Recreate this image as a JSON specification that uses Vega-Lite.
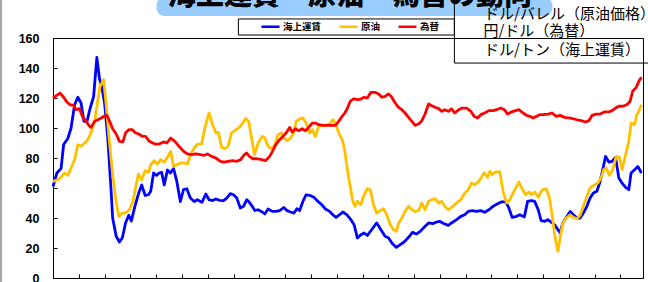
{
  "$schema": "https://vega.github.io/schema/vega-lite/v6.json",
  "width": 590,
  "height": 240,
  "autosize": {"type": "none"},
  "padding": {"left": 53, "top": 38, "right": 5, "bottom": 4},
  "background": "white",
  "config": {
    "view": {"stroke": "black", "strokeWidth": 1},
    "axis": {"grid": false, "domainColor": "black", "tickColor": "black", "domainWidth": 1, "tickWidth": 1}
  },
  "resolve": {"axis": {"x": "independent", "y": "independent"}},
  "layer": [
    {
      "data": {"values": [{}]},
      "mark": {"type": "rect", "fill": "#A6A6A6"},
      "encoding": {
        "x": {"datum": -16.6, "type": "quantitative", "axis": null},
        "x2": {"datum": -15.8},
        "y": {"datum": -5, "type": "quantitative", "axis": null},
        "y2": {"datum": 187}
      }
    },
    {
      "data": {"values": [{}]},
      "mark": {"type": "rect", "fill": "#99CCFF", "cornerRadius": 8},
      "encoding": {
        "x": {"datum": 32.1, "type": "quantitative", "axis": null},
        "x2": {"datum": 154.9},
        "y": {"datum": 174.7, "type": "quantitative", "axis": null},
        "y2": {"datum": 187}
      }
    },
    {
      "data": {"values": [{}]},
      "mark": {"type": "text", "font": "Noto Sans CJK JP", "fontSize": 28, "fontWeight": 900, "align": "center", "baseline": "alphabetic", "color": "black"},
      "encoding": {
        "x": {"datum": 92.1, "type": "quantitative", "axis": null},
        "y": {"datum": 182.3, "type": "quantitative", "axis": null},
        "text": {"value": "海上運賃・原油・為替の動向"}
      }
    },
    {
      "data": {"values": [{}]},
      "mark": {"type": "rect", "fill": "white", "stroke": "black", "strokeWidth": 1},
      "encoding": {
        "x": {"datum": 57.5, "type": "quantitative", "axis": null},
        "x2": {"datum": 124.5},
        "y": {"datum": 162, "type": "quantitative", "axis": null},
        "y2": {"datum": 172.7}
      }
    },
    {
      "data": {"values": [{}]},
      "mark": {"type": "rect", "fillOpacity": 0, "stroke": "black", "strokeWidth": 1},
      "encoding": {
        "x": {"datum": 124.5, "type": "quantitative", "axis": null},
        "x2": {"datum": 187},
        "y": {"datum": 143.3, "type": "quantitative", "axis": null},
        "y2": {"datum": 187}
      }
    },
    {
      "data": {"values": [
        {"series":"海上運賃","t":0,"v":61},{"series":"海上運賃","t":1.2,"v":70},{"series":"海上運賃","t":2.5,"v":73},{"series":"海上運賃","t":3.3,"v":89},{"series":"海上運賃","t":4.6,"v":93},{"series":"海上運賃","t":5.6,"v":100},{"series":"海上運賃","t":6.7,"v":115.5},{"series":"海上運賃","t":7.7,"v":120.5},{"series":"海上運賃","t":8.7,"v":116.7},{"series":"海上運賃","t":9.6,"v":104.5},{"series":"海上運賃","t":10.5,"v":104},{"series":"海上運賃","t":11.5,"v":113},{"series":"海上運賃","t":12.6,"v":121},{"series":"海上運賃","t":13.6,"v":147},{"series":"海上運賃","t":14.4,"v":133},{"series":"海上運賃","t":15.1,"v":128},{"series":"海上運賃","t":16.0,"v":116.7},{"series":"海上運賃","t":17.0,"v":93},{"series":"海上運賃","t":18.1,"v":55.5},{"series":"海上運賃","t":18.5,"v":40},{"series":"海上運賃","t":19.6,"v":27.8},{"series":"海上運賃","t":20.6,"v":24},{"series":"海上運賃","t":21.5,"v":26.7},{"series":"海上運賃","t":22.5,"v":36.7},{"series":"海上運賃","t":23.5,"v":41.8},{"series":"海上運賃","t":24.3,"v":38},{"series":"海上運賃","t":25.4,"v":47.8},{"series":"海上運賃","t":26.6,"v":56.7},{"series":"海上運賃","t":27.5,"v":62},{"series":"海上運賃","t":28.6,"v":55},{"series":"海上運賃","t":29.6,"v":55.5},{"series":"海上運賃","t":30.3,"v":57.8},{"series":"海上運賃","t":31.2,"v":70},{"series":"海上運賃","t":32.1,"v":68.4},{"series":"海上運賃","t":32.9,"v":70},{"series":"海上運賃","t":33.7,"v":70.4},{"series":"海上運賃","t":34.5,"v":62},{"series":"海上運賃","t":35.5,"v":72},{"series":"海上運賃","t":36.4,"v":70},{"series":"海上運賃","t":37.4,"v":73},{"series":"海上運賃","t":38.4,"v":64.4},{"series":"海上運賃","t":39.5,"v":51},{"series":"海上運賃","t":40.5,"v":59},{"series":"海上運賃","t":41.5,"v":59.5},{"series":"海上運賃","t":42.6,"v":53.3},{"series":"海上運賃","t":43.8,"v":51},{"series":"海上運賃","t":44.8,"v":52.2},{"series":"海上運賃","t":46.2,"v":50.4},{"series":"海上運賃","t":47.4,"v":56},{"series":"海上運賃","t":48.4,"v":52.2},{"series":"海上運賃","t":49.5,"v":51.6},{"series":"海上運賃","t":50.5,"v":52.7},{"series":"海上運賃","t":51.6,"v":51.8},{"series":"海上運賃","t":52.9,"v":51.6},{"series":"海上運賃","t":53.9,"v":53.3},{"series":"海上運賃","t":55.0,"v":56.2},{"series":"海上運賃","t":56.0,"v":55.5},{"series":"海上運賃","t":57.0,"v":53.3},{"series":"海上運賃","t":58.1,"v":46.7},{"series":"海上運賃","t":59.1,"v":47.8},{"series":"海上運賃","t":60.1,"v":52.2},{"series":"海上運賃","t":60.7,"v":51},{"series":"海上運賃","t":61.8,"v":47.8},{"series":"海上運賃","t":62.6,"v":45},{"series":"海上運賃","t":63.6,"v":45.5},{"series":"海上運賃","t":64.9,"v":44},{"series":"海上運賃","t":65.7,"v":42.7},{"series":"海上運賃","t":66.7,"v":46},{"series":"海上運賃","t":68.0,"v":44.4},{"series":"海上運賃","t":69.2,"v":44.4},{"series":"海上運賃","t":70.3,"v":44.9},{"series":"海上運賃","t":71.6,"v":47},{"series":"海上運賃","t":72.6,"v":44.9},{"series":"海上運賃","t":73.7,"v":44},{"series":"海上運賃","t":74.7,"v":43.3},{"series":"海上運賃","t":75.7,"v":46.2},{"series":"海上運賃","t":76.5,"v":44.9},{"series":"海上運賃","t":77.5,"v":51},{"series":"海上運賃","t":78.5,"v":55.5},{"series":"海上運賃","t":79.9,"v":54.9},{"series":"海上運賃","t":80.9,"v":53.8},{"series":"海上運賃","t":81.9,"v":51.6},{"series":"海上運賃","t":83.3,"v":49},{"series":"海上運賃","t":84.5,"v":46},{"series":"海上運賃","t":85.8,"v":44.4},{"series":"海上運賃","t":86.8,"v":42.2},{"series":"海上運賃","t":87.8,"v":40.4},{"series":"海上運賃","t":88.9,"v":42.2},{"series":"海上運賃","t":89.9,"v":44},{"series":"海上運賃","t":91.1,"v":42.2},{"series":"海上運賃","t":92.4,"v":38.9},{"series":"海上運賃","t":93.4,"v":35.5},{"series":"海上運賃","t":94.4,"v":26.7},{"series":"海上運賃","t":95.5,"v":28.9},{"series":"海上運賃","t":96.5,"v":30},{"series":"海上運賃","t":97.5,"v":28.4},{"series":"海上運賃","t":98.6,"v":31.5},{"series":"海上運賃","t":100.4,"v":36.7},{"series":"海上運賃","t":101.7,"v":32.2},{"series":"海上運賃","t":103.0,"v":27.8},{"series":"海上運賃","t":104.1,"v":26.7},{"series":"海上運賃","t":105.1,"v":23.3},{"series":"海上運賃","t":106.5,"v":20.4},{"series":"海上運賃","t":107.7,"v":22.2},{"series":"海上運賃","t":108.9,"v":24},{"series":"海上運賃","t":110.3,"v":27.1},{"series":"海上運賃","t":111.5,"v":30.4},{"series":"海上運賃","t":112.7,"v":29.3},{"series":"海上運賃","t":113.9,"v":31.1},{"series":"海上運賃","t":115.1,"v":33.8},{"series":"海上運賃","t":116.5,"v":36.7},{"series":"海上運賃","t":117.8,"v":36.2},{"series":"海上運賃","t":118.9,"v":37.3},{"series":"海上運賃","t":119.9,"v":37.8},{"series":"海上運賃","t":121.0,"v":36.5},{"series":"海上運賃","t":122.6,"v":35.1},{"series":"海上運賃","t":123.6,"v":36.7},{"series":"海上運賃","t":125.2,"v":38.9},{"series":"海上運賃","t":126.5,"v":41.1},{"series":"海上運賃","t":127.7,"v":42.2},{"series":"海上運賃","t":128.8,"v":44.4},{"series":"海上運賃","t":130.0,"v":44.9},{"series":"海上運賃","t":131.4,"v":44.4},{"series":"海上運賃","t":132.7,"v":44.9},{"series":"海上運賃","t":133.9,"v":43.8},{"series":"海上運賃","t":135.2,"v":45.5},{"series":"海上運賃","t":136.5,"v":47.8},{"series":"海上運賃","t":137.9,"v":49.5},{"series":"海上運賃","t":139.1,"v":50.7},{"series":"海上運賃","t":140.4,"v":50.7},{"series":"海上運賃","t":141.4,"v":46.7},{"series":"海上運賃","t":142.4,"v":40.4},{"series":"海上運賃","t":143.8,"v":41.1},{"series":"海上運賃","t":144.8,"v":42.2},{"series":"海上運賃","t":146.2,"v":40.7},{"series":"海上運賃","t":147.2,"v":51.1},{"series":"海上運賃","t":148.4,"v":51.6},{"series":"海上運賃","t":149.4,"v":51.1},{"series":"海上運賃","t":150.5,"v":45.5},{"series":"海上運賃","t":151.4,"v":38.2},{"series":"海上運賃","t":152.5,"v":37.8},{"series":"海上運賃","t":153.5,"v":38.9},{"series":"海上運賃","t":154.5,"v":37.3},{"series":"海上運賃","t":155.6,"v":35.5},{"series":"海上運賃","t":156.6,"v":32.2},{"series":"海上運賃","t":157.3,"v":30},{"series":"海上運賃","t":158.1,"v":36.7},{"series":"海上運賃","t":159.2,"v":40.4},{"series":"海上運賃","t":160.4,"v":44.4},{"series":"海上運賃","t":161.4,"v":42.2},{"series":"海上運賃","t":162.5,"v":40},{"series":"海上運賃","t":163.5,"v":40},{"series":"海上運賃","t":164.5,"v":43.3},{"series":"海上運賃","t":165.6,"v":47.8},{"series":"海上運賃","t":166.6,"v":53.3},{"series":"海上運賃","t":167.6,"v":56.7},{"series":"海上運賃","t":168.7,"v":57.8},{"series":"海上運賃","t":169.7,"v":64.4},{"series":"海上運賃","t":170.5,"v":72.2},{"series":"海上運賃","t":171.4,"v":81.1},{"series":"海上運賃","t":172.4,"v":77.3},{"series":"海上運賃","t":173.4,"v":77.8},{"series":"海上運賃","t":174.5,"v":80.4},{"series":"海上運賃","t":175.5,"v":66.7},{"series":"海上運賃","t":176.5,"v":63.3},{"series":"海上運賃","t":177.6,"v":60.4},{"series":"海上運賃","t":178.6,"v":58.9},{"series":"海上運賃","t":179.3,"v":70},{"series":"海上運賃","t":180.4,"v":72.2},{"series":"海上運賃","t":181.4,"v":74.4},{"series":"海上運賃","t":182.5,"v":70},
        {"series":"原油","t":0,"v":64.4},{"series":"原油","t":1.5,"v":65.5},{"series":"原油","t":2.5,"v":67.1},{"series":"原油","t":3.6,"v":70},{"series":"原油","t":4.6,"v":68.4},{"series":"原油","t":5.6,"v":73.3},{"series":"原油","t":6.7,"v":78.9},{"series":"原油","t":7.7,"v":88.9},{"series":"原油","t":8.7,"v":87.8},{"series":"原油","t":9.8,"v":90},{"series":"原油","t":10.8,"v":92.2},{"series":"原油","t":11.8,"v":96.7},{"series":"原油","t":12.9,"v":104.4},{"series":"原油","t":13.7,"v":115.5},{"series":"原油","t":14.6,"v":127.8},{"series":"原油","t":15.7,"v":132.2},{"series":"原油","t":16.5,"v":115.5},{"series":"原油","t":17.3,"v":95.5},{"series":"原油","t":18.4,"v":71.1},{"series":"原油","t":19.4,"v":53.3},{"series":"原油","t":20.4,"v":41.1},{"series":"原油","t":21.5,"v":43.3},{"series":"原油","t":22.5,"v":43.3},{"series":"原油","t":23.7,"v":45.5},{"series":"原油","t":24.8,"v":51.1},{"series":"原油","t":25.6,"v":60},{"series":"原油","t":26.5,"v":69.3},{"series":"原油","t":27.5,"v":65.5},{"series":"原油","t":28.6,"v":71.5},{"series":"原油","t":29.6,"v":70.4},{"series":"原油","t":30.3,"v":75.5},{"series":"原油","t":31.4,"v":78.2},{"series":"原油","t":32.4,"v":76},{"series":"原油","t":33.4,"v":78.9},{"series":"原油","t":34.5,"v":77.3},{"series":"原油","t":35.5,"v":80.4},{"series":"原油","t":36.5,"v":84.4},{"series":"原油","t":37.4,"v":74.4},{"series":"原油","t":38.4,"v":75.5},{"series":"原油","t":39.6,"v":76.7},{"series":"原油","t":40.7,"v":76.7},{"series":"原油","t":41.7,"v":76},{"series":"原油","t":42.7,"v":82.2},{"series":"原油","t":43.8,"v":86.7},{"series":"原油","t":44.8,"v":89.3},{"series":"原油","t":46.1,"v":89.3},{"series":"原油","t":47.1,"v":100},{"series":"原油","t":48.4,"v":110},{"series":"原油","t":49.5,"v":102.2},{"series":"原油","t":50.5,"v":96.7},{"series":"原油","t":51.3,"v":97.1},{"series":"原油","t":52.3,"v":87.1},{"series":"原油","t":53.3,"v":86.2},{"series":"原油","t":54.3,"v":87.8},{"series":"原油","t":55.4,"v":96.7},{"series":"原油","t":56.4,"v":98.2},{"series":"原油","t":57.8,"v":100.4},{"series":"原油","t":58.8,"v":103.3},{"series":"原油","t":59.8,"v":106.4},{"series":"原油","t":60.7,"v":104.4},{"series":"原油","t":61.6,"v":93.3},{"series":"原油","t":62.5,"v":82.2},{"series":"原油","t":63.6,"v":90},{"series":"原油","t":64.9,"v":94.4},{"series":"原油","t":65.7,"v":93.3},{"series":"原油","t":66.7,"v":87.8},{"series":"原油","t":67.8,"v":86},{"series":"原油","t":68.8,"v":88.9},{"series":"原油","t":69.8,"v":95.5},{"series":"原油","t":70.9,"v":96.7},{"series":"原油","t":71.6,"v":93.3},{"series":"原油","t":72.6,"v":91.5},{"series":"原油","t":73.7,"v":93.3},{"series":"原油","t":74.7,"v":96.7},{"series":"原油","t":75.4,"v":104.4},{"series":"原油","t":76.5,"v":106},{"series":"原油","t":77.5,"v":106.7},{"series":"原油","t":78.5,"v":103.3},{"series":"原油","t":79.6,"v":96.7},{"series":"原油","t":80.4,"v":98.9},{"series":"原油","t":81.4,"v":94.4},{"series":"原油","t":82.4,"v":101.1},{"series":"原油","t":83.7,"v":101.8},{"series":"原油","t":85.0,"v":101.8},{"series":"原油","t":86.1,"v":103.3},{"series":"原油","t":86.8,"v":105.5},{"series":"原油","t":87.8,"v":102.2},{"series":"原油","t":88.6,"v":96.7},{"series":"原油","t":89.7,"v":92.2},{"series":"原油","t":90.5,"v":85},{"series":"原油","t":91.3,"v":72.5},{"series":"原油","t":92.1,"v":62},{"series":"原油","t":93.0,"v":51.1},{"series":"原油","t":93.7,"v":47.8},{"series":"原油","t":94.4,"v":51.1},{"series":"原油","t":95.5,"v":48.9},{"series":"原油","t":96.5,"v":55.5},{"series":"原油","t":97.5,"v":59.5},{"series":"原油","t":98.4,"v":58.9},{"series":"原油","t":99.4,"v":48.9},{"series":"原油","t":100.4,"v":43.3},{"series":"原油","t":101.5,"v":44.9},{"series":"原油","t":102.5,"v":46.2},{"series":"原油","t":103.5,"v":42.2},{"series":"原油","t":104.6,"v":35.5},{"series":"原油","t":105.6,"v":32.2},{"series":"原油","t":106.5,"v":31.1},{"series":"原油","t":107.2,"v":36.7},{"series":"原油","t":108.2,"v":40},{"series":"原油","t":109.2,"v":44.4},{"series":"原油","t":110.3,"v":47.8},{"series":"原油","t":111.3,"v":45.5},{"series":"原油","t":112.3,"v":44.4},{"series":"原油","t":113.4,"v":44.9},{"series":"原油","t":114.4,"v":50},{"series":"原油","t":115.4,"v":45.5},{"series":"原油","t":116.5,"v":51.1},{"series":"原油","t":117.5,"v":52.2},{"series":"原油","t":118.5,"v":52.9},{"series":"原油","t":119.6,"v":50},{"series":"原油","t":120.6,"v":51.1},{"series":"原油","t":121.5,"v":47.8},{"series":"原油","t":122.6,"v":45.5},{"series":"原油","t":123.6,"v":47.1},{"series":"原油","t":125.2,"v":50},{"series":"原油","t":126.5,"v":52.2},{"series":"原油","t":127.7,"v":56.7},{"series":"原油","t":128.8,"v":58.9},{"series":"原油","t":129.8,"v":63.3},{"series":"原油","t":130.8,"v":62.2},{"series":"原油","t":131.9,"v":64},{"series":"原油","t":132.9,"v":67.1},{"series":"原油","t":133.7,"v":70},{"series":"原油","t":134.8,"v":67.1},{"series":"原油","t":135.5,"v":71.1},{"series":"原油","t":136.2,"v":68.9},{"series":"原油","t":137.3,"v":70.7},{"series":"原油","t":138.6,"v":70.7},{"series":"原油","t":139.6,"v":57.8},{"series":"原油","t":140.7,"v":50},{"series":"原油","t":141.7,"v":52.2},{"series":"原油","t":142.7,"v":56.7},{"series":"原油","t":143.8,"v":61.1},{"series":"原油","t":144.5,"v":64},{"series":"原油","t":145.5,"v":59.5},{"series":"原油","t":146.6,"v":55.5},{"series":"原油","t":147.6,"v":57.3},{"series":"原油","t":148.4,"v":55.5},{"series":"原油","t":149.4,"v":57.3},{"series":"原油","t":150.5,"v":53.8},{"series":"原油","t":151.3,"v":57.3},{"series":"原油","t":151.9,"v":58.9},{"series":"原油","t":153.0,"v":59.5},{"series":"原油","t":154.0,"v":53.3},{"series":"原油","t":154.8,"v":42.2},{"series":"原油","t":155.6,"v":28.9},{"series":"原油","t":156.6,"v":17.8},{"series":"原油","t":157.3,"v":26.7},{"series":"原油","t":158.1,"v":36.7},{"series":"原油","t":159.2,"v":40},{"series":"原油","t":160.4,"v":42.2},{"series":"原油","t":161.4,"v":40.4},{"series":"原油","t":162.5,"v":39.5},{"series":"原油","t":163.5,"v":41.8},{"series":"原油","t":164.5,"v":47.8},{"series":"原油","t":165.6,"v":54.5},{"series":"原油","t":166.6,"v":60},{"series":"原油","t":168.0,"v":62.2},{"series":"原油","t":169.0,"v":63.3},{"series":"原油","t":170.0,"v":66.7},{"series":"原油","t":170.8,"v":72.2},{"series":"原油","t":171.6,"v":73.3},{"series":"原油","t":172.6,"v":68.4},{"series":"原油","t":173.6,"v":72.2},{"series":"原油","t":174.7,"v":81.1},{"series":"原油","t":175.7,"v":80.4},{"series":"原油","t":176.5,"v":72.2},{"series":"原油","t":177.6,"v":82.2},{"series":"原油","t":178.6,"v":91.1},{"series":"原油","t":179.3,"v":103.3},{"series":"原油","t":180.4,"v":102.2},{"series":"原油","t":181.1,"v":108.9},{"series":"原油","t":181.7,"v":111.1},{"series":"原油","t":182.5,"v":115.5},
        {"series":"為替","t":0,"v":120},{"series":"為替","t":1.2,"v":121.8},{"series":"為替","t":2.2,"v":123.3},{"series":"為替","t":3.3,"v":120.5},{"series":"為替","t":4.3,"v":117.3},{"series":"為替","t":5.3,"v":115.5},{"series":"為替","t":6.4,"v":115.1},{"series":"為替","t":7.2,"v":112.2},{"series":"為替","t":8.2,"v":112.9},{"series":"為替","t":9.1,"v":107.8},{"series":"為替","t":10.1,"v":104.9},{"series":"為替","t":11.1,"v":101.8},{"series":"為替","t":11.8,"v":100.4},{"series":"為替","t":12.9,"v":104.4},{"series":"為替","t":13.9,"v":105.5},{"series":"為替","t":15.0,"v":106.7},{"series":"為替","t":15.8,"v":107.8},{"series":"為替","t":16.7,"v":108.4},{"series":"為替","t":17.5,"v":104.9},{"series":"為替","t":18.5,"v":99.5},{"series":"為替","t":19.6,"v":96},{"series":"為替","t":20.6,"v":91.1},{"series":"為替","t":21.7,"v":90.7},{"series":"為替","t":22.5,"v":96.7},{"series":"為替","t":23.5,"v":98.9},{"series":"為替","t":24.6,"v":98.9},{"series":"為替","t":25.6,"v":96.7},{"series":"為替","t":26.6,"v":96},{"series":"為替","t":27.7,"v":94.4},{"series":"為替","t":28.7,"v":94.4},{"series":"為替","t":29.7,"v":91.5},{"series":"為替","t":30.3,"v":90.7},{"series":"為替","t":31.6,"v":89.3},{"series":"為替","t":32.9,"v":89.3},{"series":"為替","t":34.3,"v":90.7},{"series":"為替","t":35.3,"v":90},{"series":"為替","t":36.5,"v":93.3},{"series":"為替","t":37.8,"v":91.1},{"series":"為替","t":39.1,"v":87.8},{"series":"為替","t":40.5,"v":84.4},{"series":"為替","t":41.7,"v":82.7},{"series":"為替","t":43.0,"v":82.2},{"series":"為替","t":44.3,"v":82.7},{"series":"為替","t":45.7,"v":82.2},{"series":"為替","t":46.9,"v":81.8},{"series":"為替","t":47.9,"v":82.7},{"series":"為替","t":49.2,"v":81.1},{"series":"為替","t":50.5,"v":80},{"series":"為替","t":51.9,"v":77.8},{"series":"為替","t":53.1,"v":77.3},{"series":"為替","t":54.3,"v":77.8},{"series":"為替","t":55.7,"v":78.2},{"series":"為替","t":57.0,"v":77.8},{"series":"為替","t":58.2,"v":78.9},{"series":"為替","t":59.3,"v":82.2},{"series":"為替","t":60.1,"v":83.3},{"series":"為替","t":60.9,"v":81.1},{"series":"為替","t":62.0,"v":79.5},{"series":"為替","t":63.3,"v":79.5},{"series":"為替","t":64.7,"v":78.9},{"series":"為替","t":65.9,"v":78.2},{"series":"為替","t":67.2,"v":81.1},{"series":"為替","t":68.2,"v":84.9},{"series":"為替","t":69.2,"v":89.3},{"series":"為替","t":70.3,"v":92.2},{"series":"為替","t":71.3,"v":94.4},{"series":"為替","t":72.3,"v":96.7},{"series":"為替","t":73.4,"v":100.4},{"series":"為替","t":74.2,"v":97.3},{"series":"為替","t":75.2,"v":99.5},{"series":"為替","t":76.2,"v":98.2},{"series":"為替","t":77.3,"v":99.5},{"series":"為替","t":78.3,"v":98.2},{"series":"為替","t":79.3,"v":100.4},{"series":"為替","t":80.4,"v":103.3},{"series":"為替","t":81.4,"v":103.3},{"series":"為替","t":82.4,"v":102.2},{"series":"為替","t":83.7,"v":101.8},{"series":"為替","t":85.0,"v":101.8},{"series":"為替","t":86.4,"v":101.8},{"series":"為替","t":87.6,"v":101.8},{"series":"為替","t":88.6,"v":104.4},{"series":"為替","t":89.7,"v":107.8},{"series":"為替","t":90.5,"v":110},{"series":"為替","t":91.1,"v":112.2},{"series":"為替","t":92.2,"v":117.8},{"series":"為替","t":93.2,"v":119.5},{"series":"為替","t":94.4,"v":118.9},{"series":"為替","t":95.5,"v":119.3},{"series":"為替","t":96.5,"v":120.5},{"series":"為替","t":97.5,"v":120},{"series":"為替","t":98.6,"v":123.8},{"series":"為替","t":99.9,"v":123.8},{"series":"為替","t":101.0,"v":122.7},{"series":"為替","t":102.0,"v":120.5},{"series":"為替","t":103.0,"v":121.1},{"series":"為替","t":104.1,"v":122.7},{"series":"為替","t":105.1,"v":120.5},{"series":"為替","t":106.1,"v":116.7},{"series":"為替","t":107.2,"v":113.8},{"series":"為替","t":108.2,"v":112.2},{"series":"為替","t":109.2,"v":110},{"series":"為替","t":110.3,"v":107.1},{"series":"為替","t":111.3,"v":104.4},{"series":"為替","t":112.3,"v":101.8},{"series":"為替","t":113.4,"v":102.7},{"series":"為替","t":114.4,"v":104.9},{"series":"為替","t":115.4,"v":109.3},{"series":"為替","t":116.5,"v":116},{"series":"為替","t":117.5,"v":114.9},{"series":"為替","t":118.5,"v":113.8},{"series":"為替","t":119.6,"v":112.9},{"series":"為替","t":120.6,"v":111.1},{"series":"為替","t":121.5,"v":112.2},{"series":"為替","t":122.6,"v":111.1},{"series":"為替","t":123.6,"v":112.7},{"series":"為替","t":124.6,"v":110},{"series":"為替","t":125.9,"v":112.2},{"series":"為替","t":126.9,"v":113.3},{"series":"為替","t":128.3,"v":113.3},{"series":"為替","t":129.6,"v":111.1},{"series":"為替","t":130.6,"v":107.8},{"series":"為替","t":131.7,"v":106.7},{"series":"為替","t":132.7,"v":108.9},{"series":"為替","t":133.9,"v":110},{"series":"為替","t":135.2,"v":111.6},{"series":"為替","t":136.5,"v":111.6},{"series":"為替","t":137.6,"v":112.2},{"series":"為替","t":138.9,"v":113.3},{"series":"為替","t":140.0,"v":112.2},{"series":"為替","t":141.0,"v":109.3},{"series":"為替","t":142.2,"v":110.7},{"series":"為替","t":143.5,"v":111.6},{"series":"為替","t":144.5,"v":112.2},{"series":"為替","t":145.8,"v":110},{"series":"為替","t":146.9,"v":108.4},{"series":"為替","t":147.9,"v":107.8},{"series":"為替","t":148.9,"v":106.7},{"series":"為替","t":150.0,"v":107.8},{"series":"為替","t":151.0,"v":108.9},{"series":"為替","t":152.1,"v":108.9},{"series":"為替","t":153.5,"v":109.3},{"series":"為替","t":154.8,"v":110},{"series":"為替","t":156.1,"v":107.8},{"series":"為替","t":157.3,"v":108.4},{"series":"為替","t":158.7,"v":107.1},{"series":"為替","t":160.0,"v":106.7},{"series":"為替","t":161.2,"v":106.2},{"series":"為替","t":162.5,"v":105.5},{"series":"為替","t":163.8,"v":104.9},{"series":"為替","t":165.2,"v":104},{"series":"為替","t":166.2,"v":104.9},{"series":"為替","t":167.2,"v":108.4},{"series":"為替","t":168.5,"v":109.3},{"series":"為替","t":169.7,"v":109.3},{"series":"為替","t":171.0,"v":110.7},{"series":"為替","t":172.4,"v":110.7},{"series":"為替","t":173.4,"v":111.6},{"series":"為替","t":174.5,"v":113.3},{"series":"為替","t":175.5,"v":114.5},{"series":"為替","t":176.7,"v":114.5},{"series":"為替","t":178.0,"v":115.5},{"series":"為替","t":179.0,"v":117.8},{"series":"為替","t":179.8,"v":124.5},{"series":"為替","t":180.9,"v":127.1},{"series":"為替","t":181.7,"v":131.1},{"series":"為替","t":182.5,"v":133.8}
      ]},
      "mark": {"type": "line", "strokeWidth": 2.8, "strokeJoin": "round"},
      "encoding": {
        "x": {"field": "t", "type": "quantitative", "scale": {"domain": [0, 183], "nice": false, "zero": false},
              "axis": {"title": null, "labels": false, "values": [0,8,16,24,32,40,48,56,64,72,80,88,96,104,112,120,128,136,144,152,160,168,176], "tickSize": -4}},
        "y": {"field": "v", "type": "quantitative", "scale": {"domain": [0, 160], "nice": false},
              "axis": {"title": null, "values": [0,20,40,60,80,100,120,140,160], "tickSize": -4, "labelFont": "Liberation Sans", "labelFontSize": 12.5, "labelFontWeight": "bold", "labelColor": "black", "labelPadding": 18}},
        "color": {"field": "series", "type": "nominal",
                  "scale": {"domain": ["海上運賃", "原油", "為替"], "range": ["#0000FF", "#FFC000", "#FF0000"]},
                  "legend": {"orient": "none", "legendX": 207, "legendY": -22, "direction": "horizontal", "title": null, "symbolType": "stroke", "symbolSize": 324, "symbolStrokeWidth": 2.5, "labelFont": "Noto Sans CJK JP", "labelFontSize": 9.5, "labelFontWeight": "bold", "labelColor": "black", "columnPadding": 12, "labelOffset": 2, "padding": 0}},
        "order": {"field": "t", "type": "quantitative"}
      }
    },
    {
      "data": {"values": [{}]},
      "mark": {"type": "text", "font": "Noto Sans CJK JP", "fontSize": 15, "align": "left", "baseline": "middle", "color": "black"},
      "encoding": {
        "x": {"datum": 133.7, "type": "quantitative", "axis": null},
        "y": {"datum": 176.3, "type": "quantitative", "axis": null},
        "text": {"value": "ドル/バレル（原油価格）"}
      }
    },
    {
      "data": {"values": [{}]},
      "mark": {"type": "text", "font": "Noto Sans CJK JP", "fontSize": 15, "align": "left", "baseline": "middle", "color": "black"},
      "encoding": {
        "x": {"datum": 133.5, "type": "quantitative", "axis": null},
        "y": {"datum": 164.7, "type": "quantitative", "axis": null},
        "text": {"value": "円/ドル（為替）"}
      }
    },
    {
      "data": {"values": [{}]},
      "mark": {"type": "text", "font": "Noto Sans CJK JP", "fontSize": 15, "align": "left", "baseline": "middle", "color": "black"},
      "encoding": {
        "x": {"datum": 133.7, "type": "quantitative", "axis": null},
        "y": {"datum": 151.7, "type": "quantitative", "axis": null},
        "text": {"value": "ドル/トン（海上運賃）"}
      }
    }
  ]
}
